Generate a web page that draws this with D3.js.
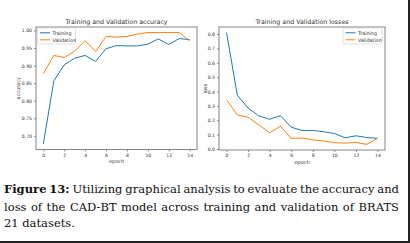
<!DOCTYPE html>
<html><head><meta charset="utf-8">
<script src="https://cdn.jsdelivr.net/npm/d3@7/dist/d3.min.js"></script>
<style>
html,body{margin:0;padding:0;background:#fff;}
svg{display:block;}
</style></head>
<body>
<svg id="c" width="410" height="243"></svg>
<script>
const epochs = [0,1,2,3,4,5,6,7,8,9,10,11,12,13,14];
const trainAcc = [0.677,0.856,0.902,0.921,0.929,0.912,0.948,0.957,0.956,0.956,0.961,0.976,0.960,0.977,0.974];
const valAcc   = [0.877,0.929,0.923,0.941,0.971,0.940,0.983,0.981,0.983,0.990,0.994,0.994,0.994,0.994,0.970];
const trainLoss = [0.810,0.375,0.285,0.230,0.207,0.232,0.152,0.129,0.129,0.120,0.108,0.078,0.092,0.080,0.074];
const valLoss   = [0.343,0.237,0.221,0.168,0.113,0.159,0.074,0.076,0.064,0.055,0.044,0.041,0.046,0.032,0.074];
const xTicks = [0,2,4,6,8,10,12,14];
const accTicks = [0.70,0.75,0.80,0.85,0.90,0.95,1.00];
const lossTicks = [0.0,0.1,0.2,0.3,0.4,0.5,0.6,0.7,0.8];
const seriesNames = ["Training","Validation"];
const colors = ["#1f77b4","#ff7f0e"];
const captionBold = "Figure 13:";
const captionLines = [
  "Utilizing graphical analysis to evaluate the accuracy and",
  "loss of the CAD-BT model across training and validation of BRATS",
  "21 datasets."
];

const svg = d3.select("#c");
svg.append("rect").attr("width",410).attr("height",243).attr("fill","#fff");

function pad(ext){const r=ext[1]-ext[0];return [ext[0]-r*0.05, ext[1]+r*0.05];}

function panel(o){
  const g = svg.append("g");
  const x = d3.scaleLinear().domain(pad(d3.extent(epochs))).range([o.x0,o.x1]);
  const y = d3.scaleLinear().domain(pad(d3.extent(o.series.flat()))).range([o.y1,o.y0]);
  const tickColor="#444", txt="#333";
  const xa = g.append("g").attr("transform",`translate(0,${o.y1})`)
    .call(d3.axisBottom(x).tickValues(xTicks).tickSize(2).tickPadding(2).tickFormat(d3.format("d")));
  const ya = g.append("g").attr("transform",`translate(${o.x0},0)`)
    .call(d3.axisLeft(y).tickValues(o.yTicks).tickSize(2).tickPadding(2).tickFormat(d3.format(o.fmt)));
  [xa,ya].forEach(a=>{
    a.select(".domain").remove();
    a.selectAll(".tick line").attr("stroke",tickColor).attr("stroke-width",0.6);
    a.selectAll(".tick text").attr("fill",txt).attr("font-family","DejaVu Sans").attr("font-size",4.6);
  });
  o.series.forEach((s,i)=>{
    g.append("path").datum(s)
      .attr("d", d3.line().x((d,j)=>x(epochs[j])).y(d=>y(d)))
      .attr("fill","none").attr("stroke",colors[i]).attr("stroke-width",1);
  });
  g.append("rect").attr("x",o.x0).attr("y",o.y0).attr("width",o.x1-o.x0).attr("height",o.y1-o.y0)
    .attr("fill","none").attr("stroke","#666").attr("stroke-width",0.8);
  g.append("text").attr("x",(o.x0+o.x1)/2).attr("y",o.y0-3.5).attr("text-anchor","middle")
    .attr("font-family","DejaVu Sans").attr("font-size",6.3).attr("fill","#333").text(o.title);
  g.append("text").attr("x",(o.x0+o.x1)/2).attr("y",o.y1+13.5).attr("text-anchor","middle")
    .attr("font-family","DejaVu Sans").attr("font-size",5).attr("fill",txt).text("epoch");
  g.append("text").attr("transform",`translate(${o.ylx},${(o.y0+o.y1)/2}) rotate(-90)`).attr("text-anchor","middle")
    .attr("font-family","DejaVu Sans").attr("font-size",5).attr("fill",txt).text(o.ylabel);
  const L = o.legend;
  g.append("rect").attr("x",L.x).attr("y",L.y).attr("width",L.w).attr("height",16).attr("rx",1)
    .attr("fill","#fff").attr("fill-opacity",0.8).attr("stroke","#ccc").attr("stroke-width",0.6);
  seriesNames.forEach((n,i)=>{
    const ly = L.y+4.8+i*7;
    g.append("line").attr("x1",L.x+2.5).attr("x2",L.x+12.5).attr("y1",ly).attr("y2",ly)
      .attr("stroke",colors[i]).attr("stroke-width",1);
    g.append("text").attr("x",L.x+15).attr("y",ly+1.7).attr("font-family","DejaVu Sans")
      .attr("font-size",4.8).attr("fill",txt).text(n);
  });
}

panel({x0:36,x1:197,y0:27,y1:149.5,series:[trainAcc,valAcc],yTicks:accTicks,fmt:".2f",
  title:"Training and Validation accuracy",ylabel:"accuracy",ylx:20,legend:{x:37.5,y:28,w:38}});
panel({x0:219,x1:385,y0:27,y1:150,series:[trainLoss,valLoss],yTicks:lossTicks,fmt:".1f",
  title:"Training and Validation losses",ylabel:"loss",ylx:206.5,legend:{x:343,y:28,w:39}});

// caption, justified lines
const left=4, right=399, baselines=[193.3,210.5,227];
const cap = svg.append("g").attr("font-family","DejaVu Serif").attr("fill","#111");
// fit font size so the longest line fits naturally
const probe = cap.append("text").attr("font-size",12).text(captionLines[1]);
const natural = probe.node().getComputedTextLength();
probe.remove();
const fs = Math.min(12.3, 12*388/natural);
cap.attr("font-size",fs);
captionLines.forEach((line,li)=>{
  let words = line.split(" ").map(w=>({t:w,b:false}));
  if(li===0) words = captionBold.split(" ").map(w=>({t:w,b:true})).concat(words);
  const t = cap.append("text").attr("y",baselines[li]);
  const spans = words.map(w=>t.append("tspan").attr("font-weight",w.b?"bold":"normal").text(w.t));
  const widths = spans.map(s=>s.node().getComputedTextLength());
  const total = d3.sum(widths);
  const justify = li < captionLines.length-1;
  const gap = justify ? (right-left-total)/(words.length-1) : fs*0.3;
  let xx = left;
  spans.forEach((s,i)=>{s.attr("x",xx); xx += widths[i]+gap;});
});

svg.append("line").attr("x1",409).attr("x2",409).attr("y1",0).attr("y2",243).attr("stroke","#222").attr("stroke-width",2);
svg.append("line").attr("x1",0).attr("x2",410).attr("y1",242).attr("y2",242).attr("stroke","#222").attr("stroke-width",2);
</script>
</body></html>
